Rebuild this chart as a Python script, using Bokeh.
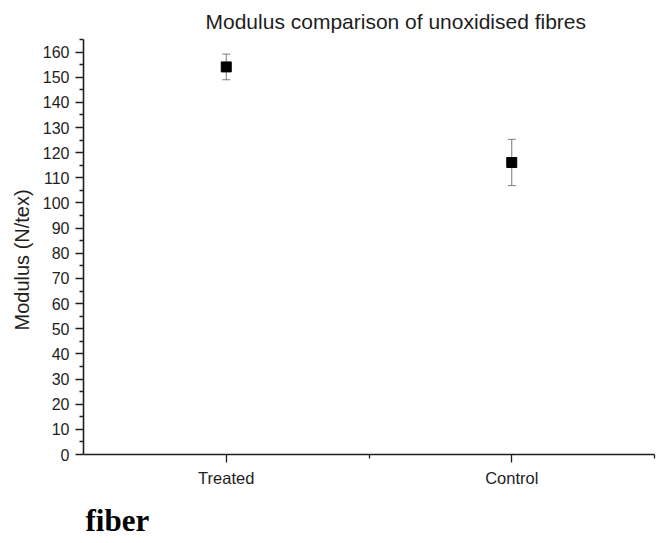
from bokeh.plotting import figure
from bokeh.models import ColumnDataSource, Whisker, TeeHead, FixedTicker, Title
from bokeh.embed import file_html
from bokeh.resources import INLINE

# Mean modulus and standard deviation for each fibre group
groups = ["Treated", "Control"]
modulus = [154.1, 116.1]
modulus_sd = [5.1, 9.2]

# Y axis ticks (N/tex)
y_major = list(range(0, 161, 10))
y_minor = list(range(5, 166, 10))

xpos = [i + 1 for i in range(len(groups))]
source = ColumnDataSource(data=dict(
    x=xpos,
    y=modulus,
    upper=[m + s for m, s in zip(modulus, modulus_sd)],
    lower=[m - s for m, s in zip(modulus, modulus_sd)],
))

FONT = "Liberation Sans"
INK = "#1e1e1e"

p = figure(
    frame_width=571, frame_height=415,
    min_border_left=83, min_border_right=8, min_border_top=39, min_border_bottom=89,
    x_range=(0.5, len(groups) + 0.5), y_range=(0, 165),
    output_backend="svg", toolbar_location=None,
)
p.outline_line_color = None
p.grid.visible = False
p.background_fill_color = "white"
p.border_fill_color = "white"

# error bars
p.add_layout(Whisker(
    source=source, base="x", upper="upper", lower="lower",
    line_color="#7a7a7a", line_width=1,
    upper_head=TeeHead(size=8, line_color="#7a7a7a", line_width=1),
    lower_head=TeeHead(size=8, line_color="#7a7a7a", line_width=1),
))
p.scatter("x", "y", source=source, marker="square", size=10,
          fill_color="black", line_color="black")

# axes
p.xaxis.ticker = FixedTicker(ticks=xpos, minor_ticks=[x + 0.5 for x in xpos])
p.xaxis.major_label_overrides = {x: g for x, g in zip(xpos, groups)}
p.yaxis.ticker = FixedTicker(ticks=y_major, minor_ticks=y_minor)

for ax in (p.xaxis[0], p.yaxis[0]):
    ax.axis_line_color = INK
    ax.axis_line_width = 1.6
    ax.major_tick_line_color = INK
    ax.major_tick_line_width = 1.3
    ax.minor_tick_line_color = INK
    ax.minor_tick_line_width = 1.3
    ax.major_tick_in = 0
    ax.major_tick_out = 8
    ax.minor_tick_in = 0
    ax.minor_tick_out = 4
    ax.major_label_text_font = FONT
    ax.major_label_text_color = INK

p.yaxis.major_label_text_font_size = "16px"
p.yaxis.major_label_standoff = 6
p.xaxis.major_label_text_font_size = "16.5px"
p.xaxis.major_label_standoff = 6

p.add_layout(Title(
    text="Modulus comparison of unoxidised fibres", align="left", offset=122,
    standoff=14,
    text_font=FONT, text_font_size="21px", text_font_style="normal", text_color=INK,
), "above")

p.add_layout(Title(
    text="Modulus (N/tex)", align="left", offset=124, standoff=14,
    text_font=FONT, text_font_size="20px", text_font_style="normal", text_color=INK,
), "left")

p.add_layout(Title(
    text="fiber", align="left", offset=2, standoff=23,
    text_font="Liberation Serif", text_font_size="31px", text_font_style="bold",
    text_color="black",
), "below")

open("out.html", "w").write(file_html(p, INLINE))
